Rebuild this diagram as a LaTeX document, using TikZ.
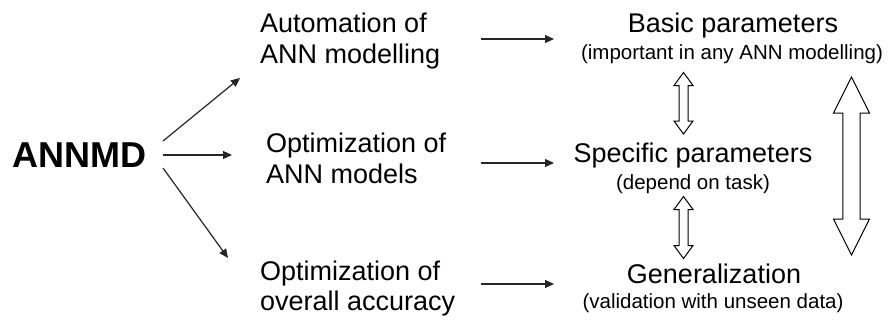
\documentclass[tikz,border=0pt]{standalone}
\usepackage{fontspec}
\setmainfont{Liberation Sans}
\usetikzlibrary{arrows.meta}

\tikzset{
  big/.style={font=\fontsize{36}{40}\selectfont\bfseries, inner sep=0pt},
  label/.style={font=\fontsize{27}{30}\selectfont, inner sep=0pt},
  note/.style={font=\fontsize{20.5}{24}\selectfont, inner sep=0pt},
  arr/.style={line width=1.2pt, color=black!85, -{Triangle[length=9pt,width=8pt]}},
  hollow/.style={draw=black, line width=1pt, fill=white, line join=miter}
}

% hollow double-headed vertical arrow: x, top y, bottom y, shaft half-width, head half-width, head length
\newcommand{\vdoublearrow}[6]{%
  \draw[hollow] (#1,#2) -- (#1+#5,#2+#6) -- (#1+#4,#2+#6) -- (#1+#4,#3-#6)
    -- (#1+#5,#3-#6) -- (#1,#3) -- (#1-#5,#3-#6) -- (#1-#4,#3-#6)
    -- (#1-#4,#2+#6) -- (#1-#5,#2+#6) -- cycle;}

\begin{document}
\begin{tikzpicture}[x=1pt,y=-1pt]
  \useasboundingbox (0,0) rectangle (888,322);

  % root
  \node[big, anchor=base west] (annmd) at (12,167) {ANNMD};

  % middle column
  \node[label, anchor=base west] (auto1) at (260,32) {Automation of};
  \node[label, anchor=base west] (auto2) at (260,63) {ANN modelling};
  \node[label, anchor=base west] (opt1) at (266,152) {Optimization of};
  \node[label, anchor=base west] (opt2) at (266,183) {ANN models};
  \node[label, anchor=base west] (acc1) at (260,280) {Optimization of};
  \node[label, anchor=base west] (acc2) at (260,310) {overall accuracy};

  % right column
  \node[label, anchor=base] (basic) at (733,32) {Basic parameters};
  \node[note, anchor=base] (basicn) at (732,59) {(important in any ANN modelling)};
  \node[label, anchor=base] (spec) at (693,162) {Specific parameters};
  \node[note, anchor=base] (specn) at (693,189) {(depend on task)};
  \node[label, anchor=base] (gen) at (714,283) {Generalization};
  \node[note, anchor=base] (genn) at (713,308) {(validation with unseen data)};

  % connector end points
  \coordinate (s1) at (163,141);
  \coordinate (s2) at (163,155);
  \coordinate (s3) at (163,168);
  \coordinate (e1) at (240,78);
  \coordinate (e2) at (232,155);
  \coordinate (e3) at (228,258);
  \coordinate (r1a) at (481,39);
  \coordinate (r1b) at (554,39);
  \coordinate (r2a) at (481,163);
  \coordinate (r2b) at (554,163);
  \coordinate (r3a) at (481,284);
  \coordinate (r3b) at (554,284);

  \draw[arr] (s1) -- (e1);
  \draw[arr] (s2) -- (e2);
  \draw[arr] (s3) -- (e3);
  \draw[arr] (r1a) -- (r1b);
  \draw[arr] (r2a) -- (r2b);
  \draw[arr] (r3a) -- (r3b);

  % hollow double arrows between parameter groups
  \vdoublearrow{683.5}{72.5}{134}{4.5}{9.5}{13}
  \vdoublearrow{683.5}{196.5}{258.5}{4.5}{9.5}{13}
  \vdoublearrow{851.5}{77}{255}{8.7}{18}{36}
\end{tikzpicture}
\end{document}
